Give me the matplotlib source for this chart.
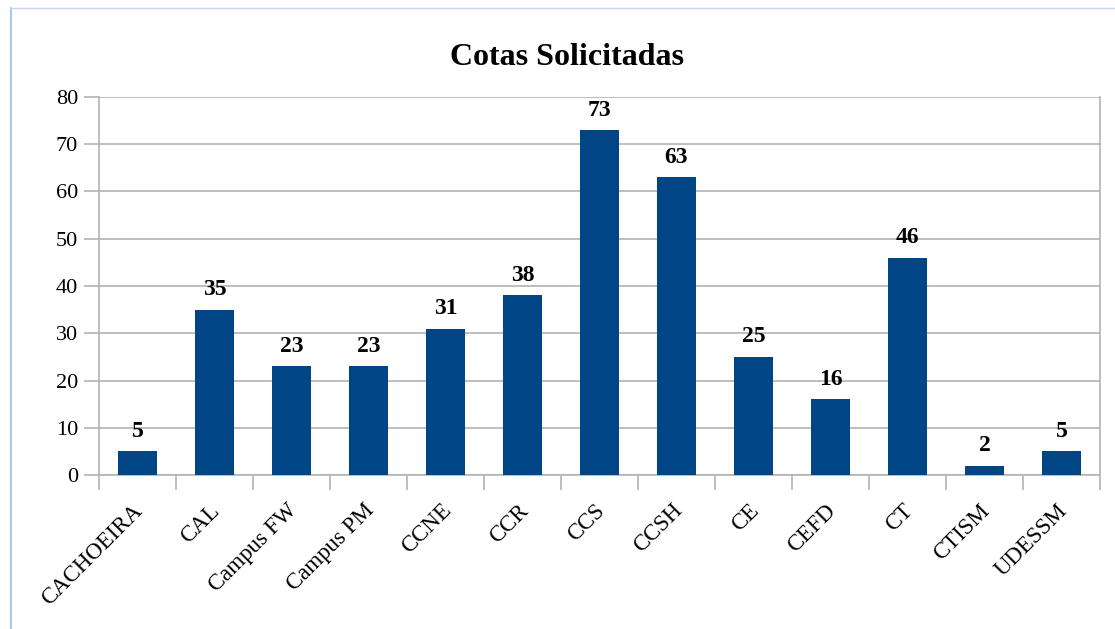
import matplotlib
matplotlib.use("Agg")
import matplotlib.pyplot as plt
import matplotlib.transforms as mtransforms
import numpy as np

# Data
categories = ["CACHOEIRA", "CAL", "Campus FW", "Campus PM", "CCNE", "CCR", "CCS",
              "CCSH", "CE", "CEFD", "CT", "CTISM", "UDESSM"]
values = [5, 35, 23, 23, 31, 38, 73, 63, 25, 16, 46, 2, 5]

plt.rcParams["font.family"] = ["Liberation Serif", "DejaVu Serif"]

grid_color = "#b3b3b3"
bar_color = "#004586"

fig = plt.figure(figsize=(11.15, 6.29), dpi=100)
ax = fig.add_axes([0.0888, 0.2448, 0.8977, 0.6010])

x = np.arange(len(categories))
ax.bar(x, values, width=0.5, color=bar_color, zorder=3)

# value labels above bars
for xi, v in zip(x, values):
    ax.text(xi, v + 2, str(v), ha="center", va="bottom", fontsize=17,
            fontweight="bold", zorder=4)

ax.set_xlim(-0.5, len(categories) - 0.5)
ax.set_ylim(0, 80)
ax.set_yticks(range(0, 81, 10))
ax.yaxis.grid(True, color=grid_color, linewidth=1.2, zorder=0)

# category ticks sit between bars
ax.set_xticks(np.arange(-0.5, len(categories)), minor=False)
ax.set_xticklabels([])
ax.set_xticks(x, minor=True)
ax.set_xticklabels(categories, minor=True, rotation=45, ha="right",
                   rotation_mode="anchor", fontsize=16.5)
ax.tick_params(axis="x", which="major", length=11, color=grid_color, width=1.2)
ax.tick_params(axis="x", which="minor", length=0, pad=18)
ax.tick_params(axis="y", length=11, color=grid_color, width=1.2, labelsize=16, pad=4)

# nudge category labels a little to the left
shift = mtransforms.ScaledTranslation(-5 / 100, 0, fig.dpi_scale_trans)
for lbl in ax.get_xticklabels(minor=True):
    lbl.set_transform(lbl.get_transform() + shift)

for side in ["left", "bottom", "right"]:
    ax.spines[side].set_color(grid_color)
    ax.spines[side].set_linewidth(1.2)
ax.spines["top"].set_visible(False)

fig.text(0.5085, 0.8967, "Cotas Solicitadas", fontsize=23, fontweight="bold",
         ha="center", va="baseline")

# thin frame of the screenshot (left and top edges)
fig.add_artist(plt.Line2D([0.0099, 0.0099], [0, 0.987], color="#9db9e8",
                          linewidth=1.2, transform=fig.transFigure))
fig.add_artist(plt.Line2D([0.0099, 1.0], [0.987, 0.987], color="#c5d5ee",
                          linewidth=1.0, transform=fig.transFigure))

fig.savefig("out.png", dpi=100)
